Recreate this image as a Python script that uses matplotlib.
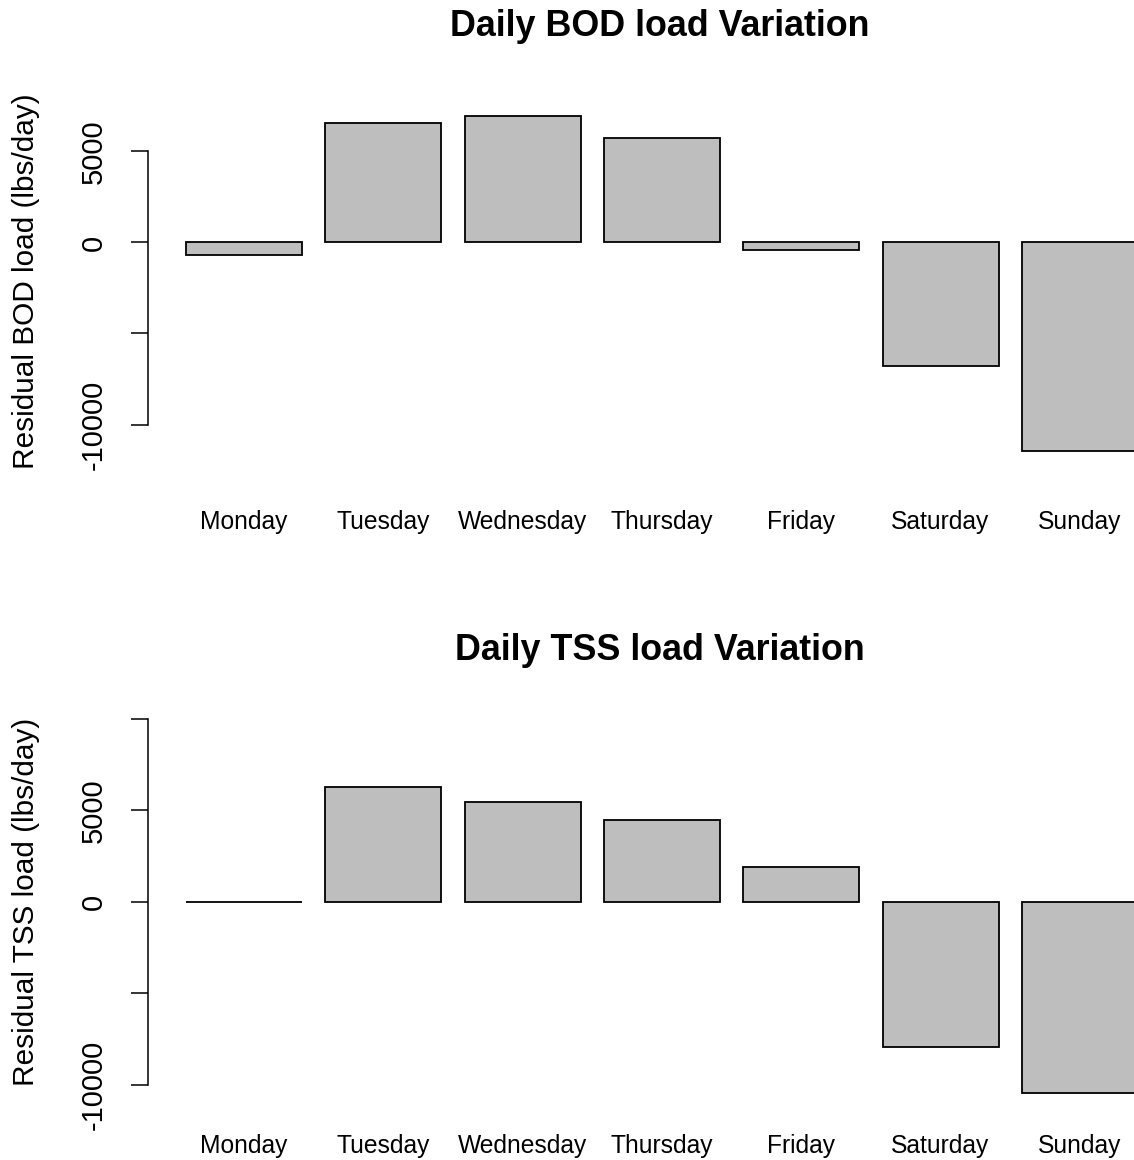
import numpy as np
import matplotlib
matplotlib.use("Agg")
import matplotlib.pyplot as plt

plt.rcParams['font.family'] = ['Liberation Sans', 'DejaVu Sans']

days = ['Monday', 'Tuesday', 'Wednesday', 'Thursday', 'Friday', 'Saturday', 'Sunday']

# residual loads (lbs/day) by weekday
bod_resid = [-690, 6540, 6950, 5740, -440, -6760, -11440]
tss_resid = [0, 6280, 5460, 4450, 1900, -7960, -10470]

bod_ticks = [-10000, -5000, 0, 5000]
bod_ticklabels = ['-10000', '', '0', '5000']
tss_ticks = [-10000, -5000, 0, 5000, 10000]
tss_ticklabels = ['-10000', '', '0', '5000', '']
tss_ylim = (-10000, 10000)

W, H = 1134, 1160
BAR_FILL = '#bebebe'


def r_range(lo, hi):
    """Pad a data range by 4% on each side (R's default axis style)."""
    d = (hi - lo) * 0.04
    return lo - d, hi + d


def px_axes(fig, left, top, right, bottom):
    return fig.add_axes([left / W, 1 - bottom / H, (right - left) / W, (bottom - top) / H])


def draw_panel(ax, values, ticks, ticklabels, ylim, xpad):
    n = len(values)
    lefts = 0.2 + 1.2 * np.arange(n)
    centers = lefts + 0.5
    ax.bar(centers, values, width=1.0, color=BAR_FILL, edgecolor='black',
           linewidth=1.3, clip_on=False)
    ax.set_xlim(r_range(0.2, lefts[-1] + 1.0))
    ax.set_ylim(ylim)

    for side in ['top', 'right', 'bottom']:
        ax.spines[side].set_visible(False)
    ax.spines['left'].set_bounds(ticks[0], ticks[-1])
    ax.spines['left'].set_linewidth(1.1)

    ax.set_yticks(ticks)
    ax.set_yticklabels(ticklabels, rotation=90, va='center', fontsize=21)
    ax.tick_params(axis='y', length=12, width=1.1, pad=17)

    ax.set_xticks(centers)
    ax.set_xticklabels(days, fontsize=17.7)
    ax.tick_params(axis='x', length=0, pad=xpad)


fig = plt.figure(figsize=(W / 100, H / 100), dpi=100)

# BOD panel
bod_ylim = r_range(min(min(bod_resid), 0), max(max(bod_resid), 0))
ax1 = px_axes(fig, 147.9, 102.6, 1176, 464.1)
draw_panel(ax1, bod_resid, bod_ticks, bod_ticklabels, bod_ylim, xpad=33)
fig.text(660 / W, 1 - 27 / H, 'Daily BOD load Variation', ha='center', va='center',
         fontsize=25.8, fontweight='bold')
fig.text(26 / W, 1 - 281 / H, 'Residual BOD load (lbs/day)', rotation=90,
         ha='center', va='center', fontsize=21.4)

# TSS panel
ax2 = px_axes(fig, 147.9, 704.1, 1176, 1099.3)
draw_panel(ax2, tss_resid, tss_ticks, tss_ticklabels, r_range(*tss_ylim), xpad=25)
fig.text(660 / W, 1 - 651 / H, 'Daily TSS load Variation', ha='center', va='center',
         fontsize=25.8, fontweight='bold')
fig.text(26 / W, 1 - 902 / H, 'Residual TSS load (lbs/day)', rotation=90,
         ha='center', va='center', fontsize=21.4)

fig.savefig('out.png', dpi=100)
